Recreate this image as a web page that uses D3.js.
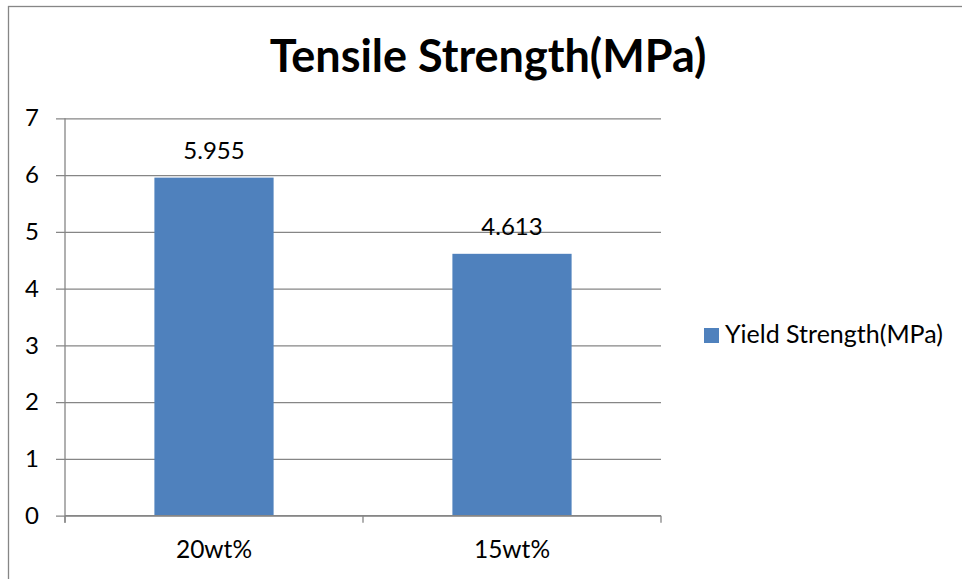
<!DOCTYPE html>
<html>
<head>
<meta charset="utf-8">
<script src="https://cdn.jsdelivr.net/npm/d3@7"></script>
<style>
  html, body { margin: 0; padding: 0; background: #fff; }
  svg { display: block; font-family: Lato, "Open Sans", sans-serif; }
</style>
</head>
<body>
<svg id="chart" width="962" height="579"></svg>
<script>
// Chart data
const categories = ["20wt%", "15wt%"];
const yieldStrength = [5.955, 4.613];
const seriesName = "Yield Strength(MPa)";
const yTicks = [0, 1, 2, 3, 4, 5, 6, 7];
const chartTitle = "Tensile Strength(MPa)";

const svg = d3.select("#chart");
const W = 962, H = 579;
const plot = { left: 65, right: 661, top: 118.3, bottom: 515.7 };
const gridColor = "#868686";
const barColor = "#4F81BD";

// Outer chart frame
svg.append("rect")
  .attr("x", 8.5).attr("y", 6.5)
  .attr("width", W + 20).attr("height", H + 20)
  .attr("fill", "#fff").attr("stroke", gridColor).attr("stroke-width", 1.3);

// Title
svg.append("text")
  .attr("x", 488).attr("y", 72)
  .attr("text-anchor", "middle")
  .attr("font-weight", "bold").attr("font-size", 45)
  .attr("fill", "#000")
  .text(chartTitle);

const x = d3.scaleBand().domain(categories).range([plot.left, plot.right])
  .paddingInner(0.6).paddingOuter(0.3);
const y = d3.scaleLinear().domain([0, 7]).range([plot.bottom, plot.top]);

// Y axis with gridlines
const yAxis = svg.append("g")
  .attr("transform", `translate(${plot.left},0)`)
  .call(d3.axisLeft(y).tickValues(yTicks).tickFormat(d3.format("d"))
    .tickSize(-(plot.right - plot.left)).tickPadding(26));
yAxis.select(".domain").remove();
yAxis.selectAll(".tick line")
  .attr("x1", -9)
  .attr("stroke", gridColor).attr("stroke-width", 1.3);
yAxis.selectAll(".tick text")
  .attr("font-size", 24).attr("font-family", "Lato, sans-serif")
  .attr("fill", "#000");

// Vertical axis line
svg.append("line")
  .attr("x1", plot.left).attr("x2", plot.left)
  .attr("y1", plot.top).attr("y2", plot.bottom + 7)
  .attr("stroke", gridColor).attr("stroke-width", 1.3);

// Bars
svg.append("g").selectAll("rect")
  .data(categories)
  .join("rect")
  .attr("x", (d) => x(d))
  .attr("width", x.bandwidth())
  .attr("y", (d, i) => y(yieldStrength[i]))
  .attr("height", (d, i) => y(0) - y(yieldStrength[i]))
  .attr("fill", barColor);

// Data labels
svg.append("g").selectAll("text")
  .data(categories)
  .join("text")
  .attr("x", (d) => x(d) + x.bandwidth() / 2)
  .attr("y", (d, i) => y(yieldStrength[i]) - 19)
  .attr("text-anchor", "middle")
  .attr("font-size", 24).attr("fill", "#000")
  .text((d, i) => d3.format(".3f")(yieldStrength[i]));

// X axis (category boundaries as ticks)
const xb = d3.scalePoint().domain(d3.range(categories.length + 1))
  .range([plot.left, plot.right]);
const xAxis = svg.append("g");
xAxis.append("line")
  .attr("x1", plot.left).attr("x2", plot.right)
  .attr("y1", plot.bottom).attr("y2", plot.bottom)
  .attr("stroke", gridColor).attr("stroke-width", 1.3);
xAxis.selectAll("line.tick")
  .data(xb.domain())
  .join("line")
  .attr("class", "tick")
  .attr("x1", (d) => xb(d)).attr("x2", (d) => xb(d))
  .attr("y1", plot.bottom).attr("y2", plot.bottom + 7)
  .attr("stroke", gridColor).attr("stroke-width", 1.3);
xAxis.selectAll("text")
  .data(categories)
  .join("text")
  .attr("x", (d) => x(d) + x.bandwidth() / 2)
  .attr("y", 557.5)
  .attr("text-anchor", "middle")
  .attr("font-size", 24.5).attr("fill", "#000")
  .text((d) => d);

// Legend
const legend = svg.append("g");
legend.append("rect")
  .attr("x", 704).attr("y", 328)
  .attr("width", 15).attr("height", 15)
  .attr("fill", barColor);
legend.append("text")
  .attr("x", 725).attr("y", 343)
  .attr("font-size", 25).attr("fill", "#000")
  .text(seriesName);
</script>
</body>
</html>
